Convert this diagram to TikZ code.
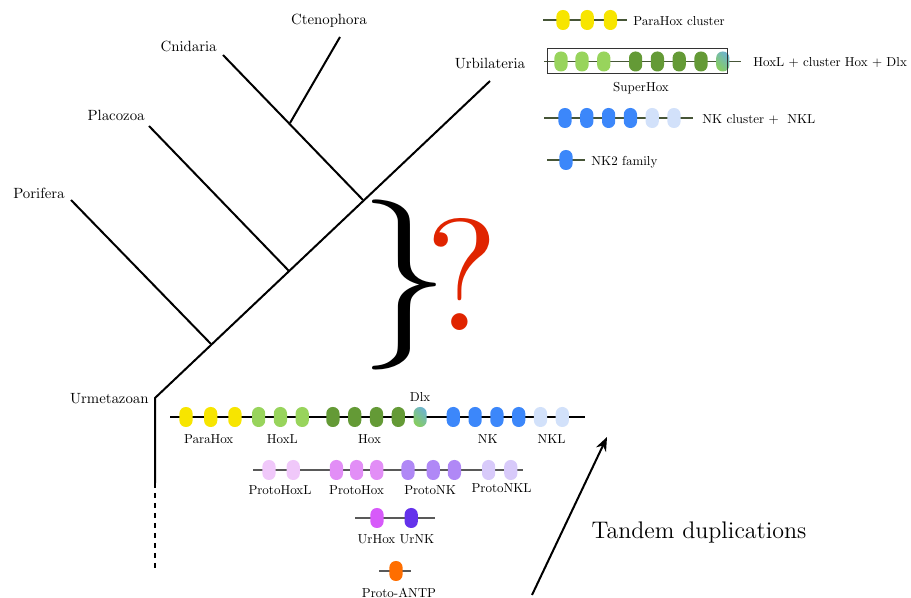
\documentclass[tikz,border=0pt]{standalone}
\usepackage{graphicx}
\usetikzlibrary{positioning,arrows.meta}

\font\taxonfont=cmr10 at 7.4pt
\font\genefont=cmr10 at 6.5pt

\definecolor{parahox}{RGB}{247,229,0}
\definecolor{hoxl}{RGB}{152,212,92}
\definecolor{hox}{RGB}{100,154,54}
\definecolor{dlxtop}{RGB}{110,180,205}
\definecolor{dlxbot}{RGB}{135,205,95}
\definecolor{nk}{RGB}{60,135,250}
\definecolor{nkl}{RGB}{210,225,250}
\definecolor{protohoxl}{RGB}{240,200,250}
\definecolor{protohox}{RGB}{226,142,246}
\definecolor{protonk}{RGB}{176,136,246}
\definecolor{protonkl}{RGB}{216,202,250}
\definecolor{urhox}{RGB}{215,90,250}
\definecolor{urnk}{RGB}{100,50,235}
\definecolor{antp}{RGB}{255,110,0}
\definecolor{qred}{RGB}{224,36,0}
\definecolor{legline}{RGB}{70,85,55}

\begin{document}
\begin{tikzpicture}[%
    x=0.5pt,
    y=-0.5pt,
    node distance=4.3pt,
    branch/.style={%
      line width=1pt
    },
    backbone/.style={%
      line width=0.6pt
    },
    gene/.style={%
      rectangle,
      rounded corners=3.2pt,
      minimum width=6.6pt,
      minimum height=10pt,
      inner sep=0pt,
      outer sep=0pt
    },
    taxon/.style={%
      font=\taxonfont,
      inner sep=1pt,
      text height=1.5ex,
      text depth=.25ex
    },
    txt/.style={%
      font=\genefont,
      inner sep=1pt,
      text height=1.5ex,
      text depth=.25ex
    }
  ]
    \useasboundingbox (0,0) rectangle (911,598);

    % tree
    \coordinate (urm) at (155,398);
    \coordinate (j1)  at (211,344);
    \coordinate (j2)  at (289,271);
    \coordinate (j3)  at (363,200);
    \coordinate (j4)  at (290,123);
    \coordinate (por) at (71,200);
    \coordinate (pla) at (149,126);
    \coordinate (cni) at (223,55);
    \coordinate (cte) at (340,37);
    \coordinate (urb) at (490,81);
    \coordinate (base) at (155,483);
    \coordinate (end) at (155,572);

    \draw[branch] (base) -- (urm) -- (urb);
    \draw[branch] (j1) -- (por);
    \draw[branch] (j2) -- (pla);
    \draw[branch] (j3) -- (cni);
    \draw[branch] (j4) -- (cte);
    \draw[branch, dash pattern=on 2.5pt off 2.5pt] (base) -- (end);

    \node[taxon] (porl) [above left=-1.5pt and 2pt of por]   {Porifera};
    \node[taxon] (plal) [above left=0.5pt and 1pt of pla]    {Placozoa};
    \node[taxon] (cnil) [above left=-0.5pt and 2pt of cni]   {Cnidaria};
    \node[taxon] (ctel) [above=4pt of cte, xshift=-5.5pt]    {Ctenophora};
    \node[taxon] (urbl) [above=4pt of urb]                   {Urbilateria};
    \node[taxon] (urml) [left=2pt of urm]                    {Urmetazoan};

    \node[inner sep=0pt] (brace) at (391,285) {\resizebox*{45pt}{85pt}{\}}\hspace*{-13pt}};
    \node[inner sep=0pt, text=qred] (quest) at (462,274) {\resizebox{36.5pt}{56pt}{?}};

    % legend
    \coordinate (a0) at (543,20);
    \coordinate (a1) at (627,20);
    \draw[backbone, legline] (a0) -- (a1);
    \node[gene, fill=parahox] (lp1) at (563,20)              {};
    \node[gene, fill=parahox] (lp2) [right=5.5pt of lp1]     {};
    \node[gene, fill=parahox] (lp3) [right=5pt of lp2]       {};
    \node[txt] (lpl) [right=2pt of a1]                       {ParaHox cluster};

    \coordinate (b0) at (544,61.5);
    \coordinate (b1) at (741,61.5);
    \draw[backbone, legline] (b0) -- (b1);
    \node[gene, fill=hoxl] (ls1) at (561,61.5)               {};
    \node[gene, fill=hoxl] (ls2) [right=3.9pt of ls1]        {};
    \node[gene, fill=hoxl] (ls3) [right=of ls2]              {};
    \node[gene, fill=hox] (ls4) [right=9.3pt of ls3]         {};
    \node[gene, fill=hox] (ls5) [right=of ls4]               {};
    \node[gene, fill=hox] (ls6) [right=of ls5]               {};
    \node[gene, fill=hox] (ls7) [right=of ls6]               {};
    \node[gene, top color=dlxtop, bottom color=dlxbot, shading angle=-45] (ls8) [right=of ls7] {};
    \node[draw=black!80, line width=0.6pt, minimum width=90pt, minimum height=12.5pt, inner sep=0pt] (superbox) at (637.6,61) {};
    \node[txt] (superl) [below=1pt of superbox, xshift=1.7pt] {SuperHox};
    \node[txt] (lsl) [right=5pt of b1]                       {HoxL + cluster Hox + Dlx};

    \coordinate (c0) at (544,118);
    \coordinate (c1) at (693,118);
    \draw[backbone, legline] (c0) -- (c1);
    \node[gene, fill=nk] (ln1) at (565,118)                  {};
    \node[gene, fill=nk] (ln2) [right=of ln1]                {};
    \node[gene, fill=nk] (ln3) [right=of ln2]                {};
    \node[gene, fill=nk] (ln4) [right=of ln3]                {};
    \node[gene, fill=nkl] (ln5) [right=of ln4]               {};
    \node[gene, fill=nkl] (ln6) [right=of ln5]               {};
    \node[txt] (lnl) [right=3.5pt of c1]                     {NK cluster + \ NKL};

    \coordinate (d0) at (547,160);
    \coordinate (d1) at (585,160);
    \draw[backbone, legline] (d0) -- (d1);
    \node[gene, fill=nk] (lk1) at (566,160)                  {};
    \node[txt] (lkl) [right=2pt of d1]                       {NK2 family};

    % Urmetazoan cluster
    \coordinate (m0) at (170,417);
    \coordinate (m1) at (585,417);
    \draw[backbone] (m0) -- (m1);
    \node[gene, fill=parahox] (p1) at (186,417)              {};
    \node[gene, fill=parahox] (p2) [right=5.75pt of p1]      {};
    \node[gene, fill=parahox] (p3) [right=5.5pt of p2]       {};
    \node[gene, fill=hoxl] (hl1) [right=5.25pt of p3]        {};
    \node[gene, fill=hoxl] (hl2) [right=of hl1]              {};
    \node[gene, fill=hoxl] (hl3) [right=of hl2]              {};
    \node[gene, fill=hox] (hx1) [right=8.75pt of hl3]        {};
    \node[gene, fill=hox] (hx2) [right=of hx1]               {};
    \node[gene, fill=hox] (hx3) [right=of hx2]               {};
    \node[gene, fill=hox] (hx4) [right=of hx3]               {};
    \node[gene, top color=dlxtop, bottom color=dlxbot, shading angle=-45] (dlx) [right=of hx4] {};
    \node[gene, fill=nk] (nk1) [right=10pt of dlx]           {};
    \node[gene, fill=nk] (nk2) [right=of nk1]                {};
    \node[gene, fill=nk] (nk3) [right=of nk2]                {};
    \node[gene, fill=nk] (nk4) [right=of nk3]                {};
    \node[gene, fill=nkl] (nl1) [right=of nk4]               {};
    \node[gene, fill=nkl] (nl2) [right=of nl1]               {};

    \node[txt] (pl)   [below=0.8pt of p2, xshift=-1pt]       {ParaHox};
    \node[txt] (hll)  [below=0.8pt of hl2, xshift=1pt]       {HoxL};
    \node[txt] (hxl)  [below=0.8pt of hx3, xshift=-3.5pt]    {Hox};
    \node[txt] (dlxl) [above=0.5pt of dlx]                   {Dlx};
    \node[txt] (nkl)  [below=0.8pt of nk3, xshift=-4.5pt]    {NK};
    \node[txt] (nll)  [below=0.8pt of nl1, xshift=5.5pt]     {NKL};

    % proto clusters
    \coordinate (q0) at (253,470);
    \coordinate (q1) at (523,470);
    \draw[backbone, black!65] (q0) -- (q1);
    \node[gene, fill=protohoxl] (ph1) at (269,470)           {};
    \node[gene, fill=protohoxl] (ph2) [right=5.5pt of ph1]   {};
    \node[gene, fill=protohox] (px1) [right=15pt of ph2]     {};
    \node[gene, fill=protohox] (px2) [right=3.5pt of px1]    {};
    \node[gene, fill=protohox] (px3) [right=3.5pt of px2]    {};
    \node[gene, fill=protonk] (pn1) [right=9pt of px3]       {};
    \node[gene, fill=protonk] (pn2) [right=6pt of pn1]       {};
    \node[gene, fill=protonk] (pn3) [right=4pt of pn2]       {};
    \node[gene, fill=protonkl] (pk1) [right=10.5pt of pn3]   {};
    \node[gene, fill=protonkl] (pk2) [right=4.5pt of pk1]    {};

    \node[txt] (phl) [below=-0.3pt of ph1, xshift=5.5pt]     {ProtoHoxL};
    \node[txt] (pxl) [below=-0.3pt of px2]                   {ProtoHox};
    \node[txt] (pnl) [below=-0.3pt of pn2, xshift=-1.5pt]    {ProtoNK};
    \node[txt] (pkl) [below=-1.6pt of pk1, xshift=6.5pt]     {ProtoNKL};

    \coordinate (r0) at (355,518);
    \coordinate (r1) at (435,518);
    \draw[backbone, black!65] (r0) -- (r1);
    \node[gene, fill=urhox] (uh) at (377,518)                {};
    \node[gene, fill=urnk] (un) [right=10.5pt of uh]         {};
    \node[txt] (ul) [below=0pt of uh, xshift=9.5pt]          {UrHox UrNK};

    \coordinate (s0) at (379,571);
    \coordinate (s1) at (411,571);
    \draw[backbone, black!65] (s0) -- (s1);
    \node[gene, fill=antp] (antp) at (396,571)               {};
    \node[txt] (antpl) [below=0.4pt of antp, xshift=1.5pt]   {Proto-ANTP};

    % tandem duplications
    \coordinate (t0) at (532,595);
    \coordinate (t1) at (607,437);
    \draw[-{Stealth[length=7pt,width=5.5pt]}, line width=1pt] (t0) -- (t1);
    \node[font=\large] (tandem) at (699,533)                 {Tandem duplications};
\end{tikzpicture}
\end{document}
